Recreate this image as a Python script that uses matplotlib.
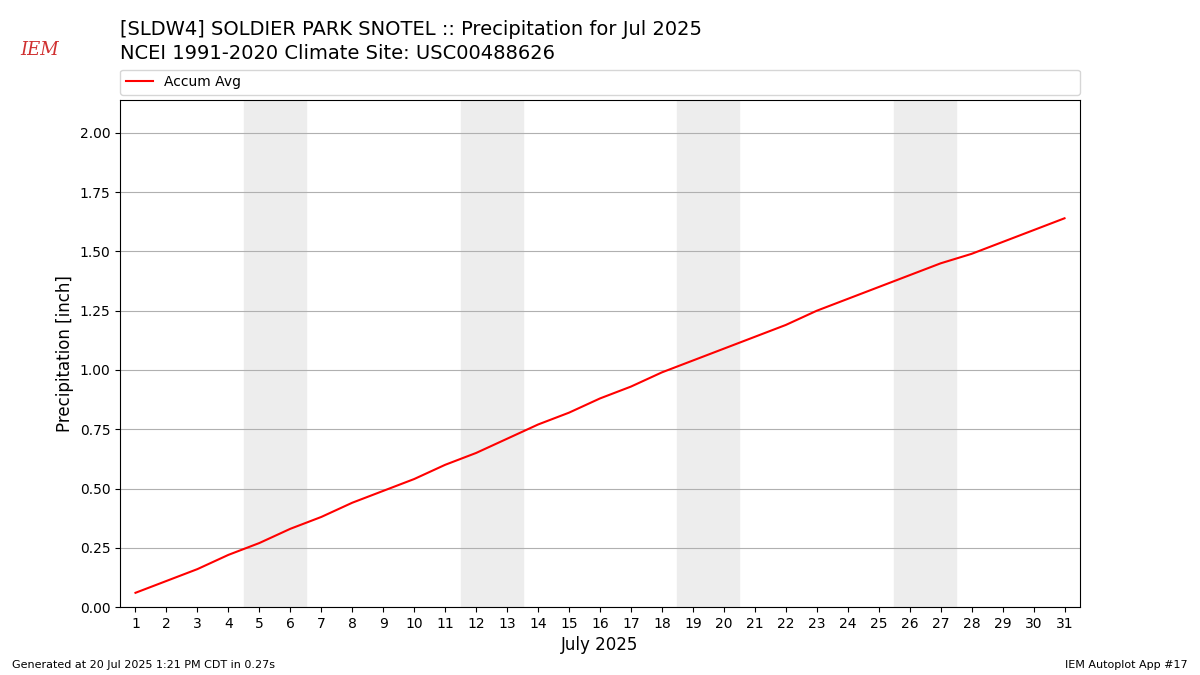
import numpy as np
import matplotlib
matplotlib.use("Agg")
import matplotlib.pyplot as plt

days = list(range(1, 32))
accum_avg = [0.06, 0.11, 0.16, 0.22, 0.27, 0.33, 0.38, 0.44, 0.49, 0.54,
             0.60, 0.65, 0.71, 0.77, 0.82, 0.88, 0.93, 0.99, 1.04, 1.09,
             1.14, 1.19, 1.25, 1.30, 1.35, 1.40, 1.45, 1.49, 1.54, 1.59, 1.64]
weekends = [(5, 6), (12, 13), (19, 20), (26, 27)]

fig = plt.figure(figsize=(12, 6.75), dpi=100)
ax = fig.add_axes([0.1, 0.1007, 0.8, 0.7515])

for a, b in weekends:
    ax.axvspan(a - 0.5, b + 0.5, color="#ededed", zorder=0)
ax.plot(days, accum_avg, color="red", label="Accum Avg", zorder=3)

ax.set_xlim(0.5, 31.5)
ax.set_ylim(0, 2.14)
ax.set_xticks(days)
ax.set_yticks(np.arange(0, 2.01, 0.25))
ax.yaxis.grid(True, color="#b0b0b0")
ax.set_axisbelow(True)
ax.set_xlabel("July 2025", fontsize=12)
ax.set_ylabel("Precipitation [inch]", fontsize=12)

ax.legend(loc="lower left", bbox_to_anchor=(0, 1.01, 1, 0.05), mode="expand",
          ncol=1, borderaxespad=0, fontsize=10)

fig.text(0.1, 0.942, "[SLDW4] SOLDIER PARK SNOTEL :: Precipitation for Jul 2025",
         fontsize=14, va="bottom")
fig.text(0.1, 0.907, "NCEI 1991-2020 Climate Site: USC00488626",
         fontsize=14, va="bottom")
fig.text(0.017, 0.918, "IEM", color="#d03030", fontsize=13, style="italic", family="serif")
fig.text(0.01, 0.01, "Generated at 20 Jul 2025 1:21 PM CDT in 0.27s", fontsize=8)
fig.text(0.99, 0.01, "IEM Autoplot App #17", fontsize=8, ha="right")

fig.savefig("out.png", dpi=100)
